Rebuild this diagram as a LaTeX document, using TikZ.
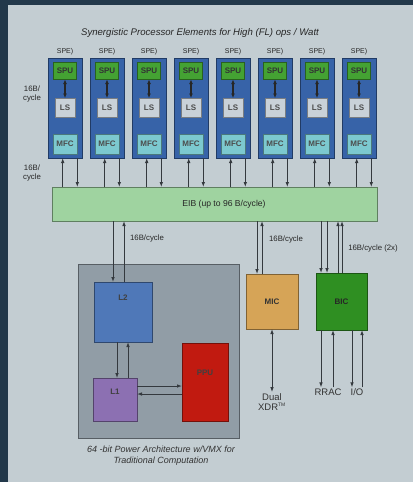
\documentclass[tikz,border=0pt]{standalone}
\usepackage{fontspec}
\setmainfont{Liberation Sans}
\usetikzlibrary{arrows.meta}
\definecolor{bgdark}{HTML}{22384A}
\definecolor{panel}{HTML}{C3CDD2}
\definecolor{speblue}{HTML}{3763A8}
\definecolor{spuGreen}{HTML}{44A233}
\definecolor{lsgray}{HTML}{C9D1D8}
\definecolor{mfccyan}{HTML}{7CC9CF}
\definecolor{eibgreen}{HTML}{9FD3A0}
\definecolor{ppegray}{HTML}{919DA6}
\definecolor{l2blue}{HTML}{4F78B8}
\definecolor{l1purple}{HTML}{8C70B2}
\definecolor{ppured}{HTML}{C11A10}
\definecolor{micorange}{HTML}{D6A457}
\definecolor{bicgreen}{HTML}{2F8F22}
\definecolor{linec}{HTML}{34393E}
\tikzset{
  x=1pt, y=-1pt,
  blk/.style={draw=#1!60!black, line width=0.9pt, inner sep=0pt, outer sep=0pt},
  lbl/.style={font=\fontsize{7.8}{8.5}\selectfont, text=black!85, inner sep=1pt},
  blab/.style={font=\fontsize{8}{8}\selectfont\bfseries, text=black!80, inner sep=0pt},
  arr/.style={draw=linec, line width=0.9pt, -{Latex[length=5pt,width=3.6pt]}},
  darr/.style={draw=linec, line width=0.9pt, {Latex[length=5pt,width=3.6pt]}-{Latex[length=5pt,width=3.6pt]}},
  sarr/.style={draw=black!85, line width=1.1pt, {Latex[length=4.5pt,width=4pt]}-{Latex[length=4.5pt,width=4pt]}},
}
\begin{document}
\begin{tikzpicture}
\useasboundingbox (0,0) rectangle (413,482);
\fill[bgdark] (0,0) rectangle (413,482);
\fill[panel] (8,5) rectangle (413,482);

\node[font=\fontsize{9.6}{11}\selectfont\itshape, text=black!85] (title) at (200,33) {Synergistic Processor Elements for High (FL) ops / Watt};

% EIB
\node[blk=eibgreen, fill=eibgreen, minimum width=325pt, minimum height=34pt] (eib) at (214.5,204) {};
\node[lbl, font=\fontsize{8.6}{9}\selectfont] (eibt) at (224,204) {EIB (up to 96 B/cycle)};

\foreach \i in {0,...,7} {
  \pgfmathsetmacro{\cx}{65+42*\i}
  \node[blk=speblue, fill=speblue, minimum width=34pt, minimum height=100pt] (spe\i) at (\cx,108) {};
  \node[lbl, font=\fontsize{7}{8}\selectfont] (spel\i) at (\cx,51.5) {SPE)};
  \node[blk=spuGreen, fill=spuGreen, minimum width=23pt, minimum height=17pt, blab] (spu\i) at (\cx,71) {SPU};
  \node[blk=lsgray, fill=lsgray, minimum width=20pt, minimum height=19pt, blab, text=black!70] (ls\i) at (\cx,107.5) {LS};
  \node[blk=mfccyan, fill=mfccyan, minimum width=24pt, minimum height=20pt, blab, text=black!70] (mfc\i) at (\cx,144) {MFC};
  \draw[sarr] (spu\i.south) -- (ls\i.north);
  \draw[arr] ([xshift=-2.3pt]spe\i.south |- eib.north) -- ([xshift=-2.3pt]spe\i.south);
  \draw[arr] ([xshift=12.3pt]spe\i.south) -- ([xshift=12.3pt]spe\i.south |- eib.north);
}

\node[lbl, align=center] (c1) at (32,94) {16B/\\cycle};
\node[lbl, align=center] (c2) at (32,173) {16B/\\cycle};

% PPE
\node[blk=ppegray, fill=ppegray, minimum width=161pt, minimum height=174pt] (ppe) at (158.5,351) {};
\node[blk=l2blue, fill=l2blue, minimum width=58pt, minimum height=60pt] (l2) at (123,312) {};
\node[blab, text=black!75] (l2t) at (123,298) {L2};
\node[blk=l1purple, fill=l1purple, minimum width=44pt, minimum height=43pt] (l1) at (115,399.5) {};
\node[blab, text=black!75] (l1t) at (115,392) {L1};
\node[blk=ppured, fill=ppured, minimum width=46pt, minimum height=78pt] (ppu) at (205,382) {};
\node[blab, text=black!75] (ppt) at (205,373) {PPU};
\node[font=\fontsize{9}{10.5}\selectfont\itshape, text=black!80, align=center] (cap) at (161,455.5) {64 -bit Power Architecture w/VMX for\\Traditional Computation};

\draw[arr] (eib.south -| 113,0) -- (l2.north -| 113,0);
\draw[arr] (l2.north -| 124,0) -- (eib.south -| 124,0);
\node[lbl] (lab1) at (147,238) {16B/cycle};
\draw[arr] (l2.south -| 117,0) -- (l1.north -| 117,0);
\draw[arr] (l1.north -| 128,0) -- (l2.south -| 128,0);
\draw[arr] (l1.east |- 0,386) -- (ppu.west |- 0,386);
\draw[arr] (ppu.west |- 0,394) -- (l1.east |- 0,394);

% MIC
\node[blk=micorange, fill=micorange, minimum width=52pt, minimum height=55pt, blab] (mic) at (272,301.5) {MIC};
\draw[arr] (eib.south -| 257,0) -- (mic.north -| 257,0);
\draw[arr] (mic.north -| 262,0) -- (eib.south -| 262,0);
\node[lbl] (lab2) at (286,239) {16B/cycle};
\node[font=\fontsize{9.5}{10.5}\selectfont, text=black!80, align=center, inner sep=1pt] (xdr) at (272,402) {Dual\\XDR\textsuperscript{\tiny TM}};
\draw[darr] (mic.south) -- (xdr.north);

% BIC
\node[blk=bicgreen, fill=bicgreen, minimum width=51pt, minimum height=57pt, blab, text=black!85] (bic) at (341.5,301.5) {BIC};
\draw[arr] (eib.south -| 321,0) -- (bic.north -| 321,0);
\draw[arr] (eib.south -| 327,0) -- (bic.north -| 327,0);
\draw[arr] (bic.north -| 338,0) -- (eib.south -| 338,0);
\draw[arr] (bic.north -| 342,0) -- (eib.south -| 342,0);
\node[lbl] (lab3) at (373,248) {16B/cycle (2x)};
\node[font=\fontsize{9.5}{10}\selectfont, text=black!80, inner sep=1pt] (rrac) at (328,392) {RRAC};
\node[font=\fontsize{9.5}{10}\selectfont, text=black!80, inner sep=1pt] (io) at (357,392) {I/O};
\draw[arr] (bic.south -| 321,0) -- (rrac.north -| 321,0);
\draw[arr] (rrac.north -| 333,0) -- (bic.south -| 333,0);
\draw[arr] (bic.south -| 352,0) -- (io.north -| 352,0);
\draw[arr] (io.north -| 362,0) -- (bic.south -| 362,0);
\end{tikzpicture}
\end{document}
